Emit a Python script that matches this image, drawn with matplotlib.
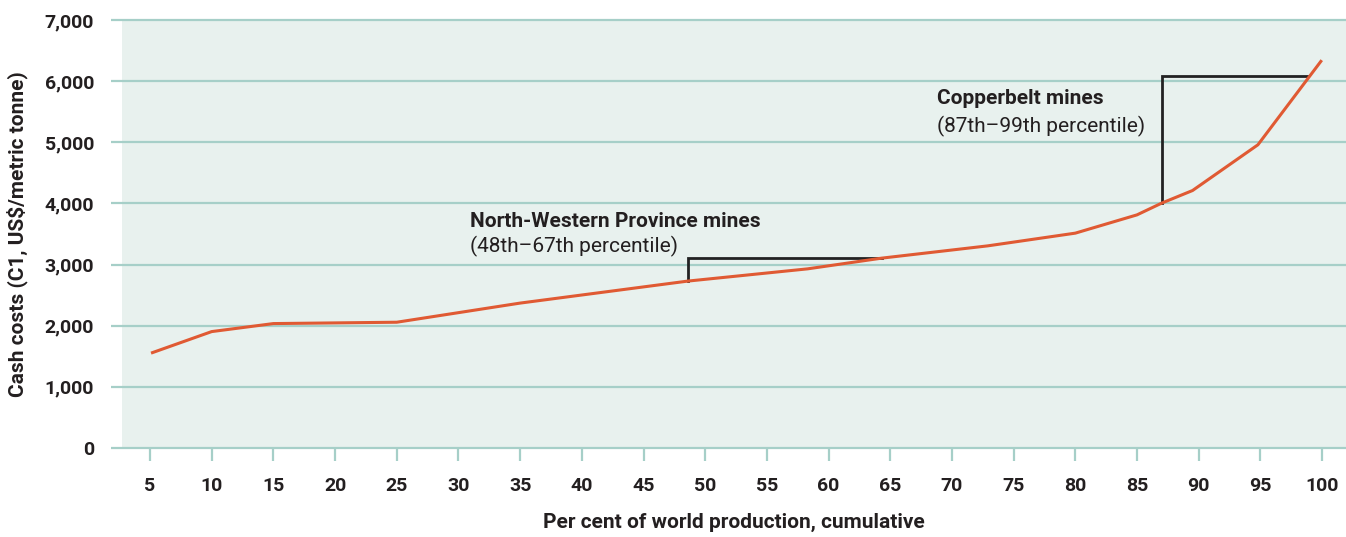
import numpy as np
import matplotlib
matplotlib.use("Agg")
import matplotlib.pyplot as plt

# cost curve
pct = [5.2, 10, 15, 25, 35, 48.6, 58.3, 64.3, 72.9, 80, 85, 87, 89.5, 94.8, 99.9]
cost = [1560, 1904, 2035, 2057, 2370, 2730, 2930, 3105, 3306, 3514, 3813, 4005, 4211, 4959, 6323]

xticks = list(range(5, 101, 5))
yticks = list(range(0, 7001, 1000))

# brackets: (x start, x end, y low at start, y top)
nw_bracket = [48.6, 64.3, 2730, 3105]
cb_bracket = [87.0, 98.9, 4005, 6088]

plt.rcParams['font.family'] = ['Roboto', 'DejaVu Sans']
grid_col = '#a6cfc8'
text_col = '#231f20'

fig = plt.figure(figsize=(13.46, 5.37), dpi=100)
ax = fig.add_axes([122/1346, 89/537, 1 - 122/1346, 428/537])
ax.set_facecolor('#e8f1ee')

ax.set_xlim(2.73, 101.94)
ax.set_ylim(0, 7000)

# gridlines, sticking out a bit on the left
ax.hlines(yticks, -0.009, 1, transform=ax.get_yaxis_transform(),
          colors=grid_col, lw=1.6, clip_on=False, zorder=1)

ax.plot(pct, cost, color='#e05a33', lw=2.2, zorder=3)

for b in (nw_bracket, cb_bracket):
    ax.plot([b[0], b[0], b[1]], [b[2], b[3], b[3]], color='#222222', lw=2.0,
            zorder=2, solid_joinstyle='miter')

ax.text(30.94, 3699, 'North-Western Province mines', fontsize=15, fontweight='bold',
        color=text_col, va='center', ha='left')
ax.text(30.94, 3290, '(48th\u201367th percentile)', fontsize=15,
        color=text_col, va='center', ha='left')
ax.text(68.8, 5712, 'Copperbelt mines', fontsize=15, fontweight='bold',
        color=text_col, va='center', ha='left')
ax.text(68.8, 5254, '(87th\u201399th percentile)', fontsize=15,
        color=text_col, va='center', ha='left')

for s in ax.spines.values():
    s.set_visible(False)

ax.set_xticks(xticks)
ax.set_xticklabels([str(t) for t in xticks], fontsize=14, fontweight='bold', color=text_col)
ax.set_yticks(yticks)
ax.set_yticklabels([f'{t:,}' for t in yticks], fontsize=14, fontweight='bold', color=text_col)
ax.tick_params(axis='x', direction='out', length=9, width=1.6, color=grid_col, pad=12)
ax.tick_params(axis='y', length=0, pad=20)

ax.set_xlabel('Per cent of world production, cumulative', fontsize=15, fontweight='bold',
              color=text_col, labelpad=13)
ax.set_ylabel('Cash costs (C1, US$/metric tonne)', fontsize=15, fontweight='bold',
              color=text_col, labelpad=12)

fig.savefig('out.png', dpi=100)
